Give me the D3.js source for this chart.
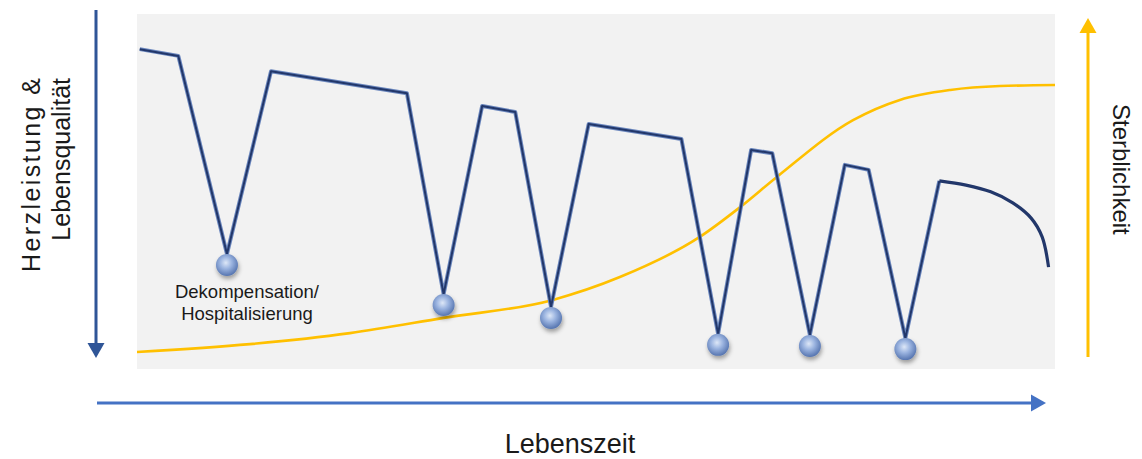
<!DOCTYPE html>
<html>
<head>
<meta charset="utf-8">
<script src="https://cdn.jsdelivr.net/npm/d3@7"></script>
<style>
  body { margin: 0; background: #fff; }
  text { font-family: "Liberation Sans", Arial, sans-serif; fill: #1a1a1a; }
</style>
</head>
<body>
<div id="chart"></div>
<script>
// Lebenszeit on x (0-100), Herzleistung on y (0-100)
var lifeTime = [0.3, 4.5, 9.8, 14.6, 29.4, 33.4, 37.6, 41.2, 45.1, 49.2, 59.3, 63.3, 66.9, 69.2, 73.3, 77.1, 79.7, 83.7, 87.4];
var heartPerf = [90.1, 88.2, 32.4, 83.9, 77.7, 21.1, 74.1, 72.4, 17.5, 69.0, 64.8, 9.9, 61.7, 60.8, 9.6, 57.5, 56.1, 8.7, 53.0];
// the last decline, drawn as a curve
var tailTime = [87.4, 90.3, 93.0, 95.4, 97.4, 98.6, 99.3];
var tailPerf = [53.0, 51.8, 49.9, 46.8, 42.5, 37.2, 28.7];
// decompensation events (index into the points above)
var eventIdx = [2, 5, 8, 11, 14, 17];
// mortality curve
var mortTime = [0, 12.3, 23.2, 33.4, 45.2, 52.6, 61.3, 65.7, 69.7, 78.0, 83.1, 88.6, 94.0, 100];
var mortality = [4.8, 7.0, 10.1, 14.4, 19.4, 25.9, 37.2, 45.6, 54.1, 70.1, 75.8, 78.6, 79.7, 80.0];

var svgWidth = 1142, svgHeight = 459;
var panel = { left: 137, right: 1055, top: 14, bottom: 369 };

var svg = d3.select("#chart").append("svg")
  .attr("width", svgWidth)
  .attr("height", svgHeight);

var defs = svg.append("defs");
var grad = defs.append("radialGradient").attr("id", "ball")
  .attr("cx", "45%").attr("cy", "40%").attr("r", "60%");
grad.append("stop").attr("offset", "0%").attr("stop-color", "#dde7f7");
grad.append("stop").attr("offset", "45%").attr("stop-color", "#9bb4e0");
grad.append("stop").attr("offset", "100%").attr("stop-color", "#5675b0");
var shadow = defs.append("filter").attr("id", "shadow")
  .attr("x", "-50%").attr("y", "-50%").attr("width", "200%").attr("height", "200%");
shadow.append("feDropShadow").attr("dx", 1).attr("dy", 3).attr("stdDeviation", 2)
  .attr("flood-color", "#000").attr("flood-opacity", 0.35);

var x = d3.scaleLinear().domain([0, 100]).range([panel.left, panel.right]);
var y = d3.scaleLinear().domain([0, 100]).range([panel.bottom, panel.top]);

// grey background
svg.append("rect")
  .attr("x", x(0)).attr("y", y(100))
  .attr("width", x(100) - x(0)).attr("height", y(0) - y(100))
  .attr("fill", "#f2f2f2");

// mortality curve
var mortLine = d3.line().x(d => x(d[0])).y(d => y(d[1])).curve(d3.curveMonotoneX);
svg.append("path")
  .attr("d", mortLine(d3.zip(mortTime, mortality)))
  .attr("fill", "none").attr("stroke", "#ffc000").attr("stroke-width", 2.6);

// heart performance line
var pts = d3.zip(lifeTime, heartPerf);
var tail = d3.zip(tailTime, tailPerf);
var perfLine = d3.line().x(d => x(d[0])).y(d => y(d[1]));
var tailLine = d3.line().x(d => x(d[0])).y(d => y(d[1])).curve(d3.curveCatmullRom);

[[perfLine(pts), "#6a86bd", 4], [perfLine(pts), "#22376a", 2],
 [tailLine(tail), "#22376a", 3.2]].forEach(function(p) {
  svg.append("path").attr("d", p[0])
    .attr("fill", "none").attr("stroke", p[1]).attr("stroke-width", p[2])
    .attr("stroke-linejoin", "round");
});

// bubbles
var r = 11;
svg.selectAll("circle.ev")
  .data(eventIdx)
  .enter().append("circle")
  .attr("class", "ev")
  .attr("cx", i => x(lifeTime[i]))
  .attr("cy", i => y(heartPerf[i]) + r)
  .attr("r", r)
  .attr("fill", "url(#ball)")
  .attr("filter", "url(#shadow)");

// event label
var lbl = svg.append("text")
  .attr("x", x(lifeTime[2]) + 20).attr("y", 298)
  .attr("text-anchor", "middle").style("font-size", "18.5px");
lbl.append("tspan").text("Dekompensation/");
lbl.append("tspan").attr("x", x(lifeTime[2]) + 20).attr("dy", 22).text("Hospitalisierung");

// axis arrows
function arrow(x1, y1, x2, y2, color) {
  var len = Math.hypot(x2 - x1, y2 - y1), ux = (x2 - x1) / len, uy = (y2 - y1) / len;
  var hl = 15, hw = 8.5;
  var bx = x2 - ux * hl, by = y2 - uy * hl;
  svg.append("line")
    .attr("x1", x1).attr("y1", y1).attr("x2", bx).attr("y2", by)
    .attr("stroke", color).attr("stroke-width", 3);
  svg.append("polygon")
    .attr("points", [[x2, y2], [bx - uy * hw, by + ux * hw], [bx + uy * hw, by - ux * hw]].join(" "))
    .attr("fill", color);
}
arrow(96, 10, 96, 358, "#2f5597");
arrow(97, 403, 1046, 403, "#4472c4");
arrow(1088, 357, 1088, 18, "#ffc000");

// axis titles
svg.append("text")
  .attr("transform", "translate(40,272) rotate(-90)")
  .attr("text-anchor", "start").style("font-size", "25px")
  .attr("textLength", 194).attr("lengthAdjust", "spacing")
  .text("Herzleistung &");
svg.append("text")
  .attr("transform", "translate(70,78) rotate(-90)")
  .attr("text-anchor", "end").style("font-size", "25px")
  .text("Lebensqualität");
svg.append("text")
  .attr("transform", "translate(1113,104) rotate(90)")
  .attr("text-anchor", "start").style("font-size", "24px")
  .text("Sterblichkeit");
svg.append("text")
  .attr("x", 570).attr("y", 453)
  .attr("text-anchor", "middle").style("font-size", "27px")
  .text("Lebenszeit");
</script>
</body>
</html>
